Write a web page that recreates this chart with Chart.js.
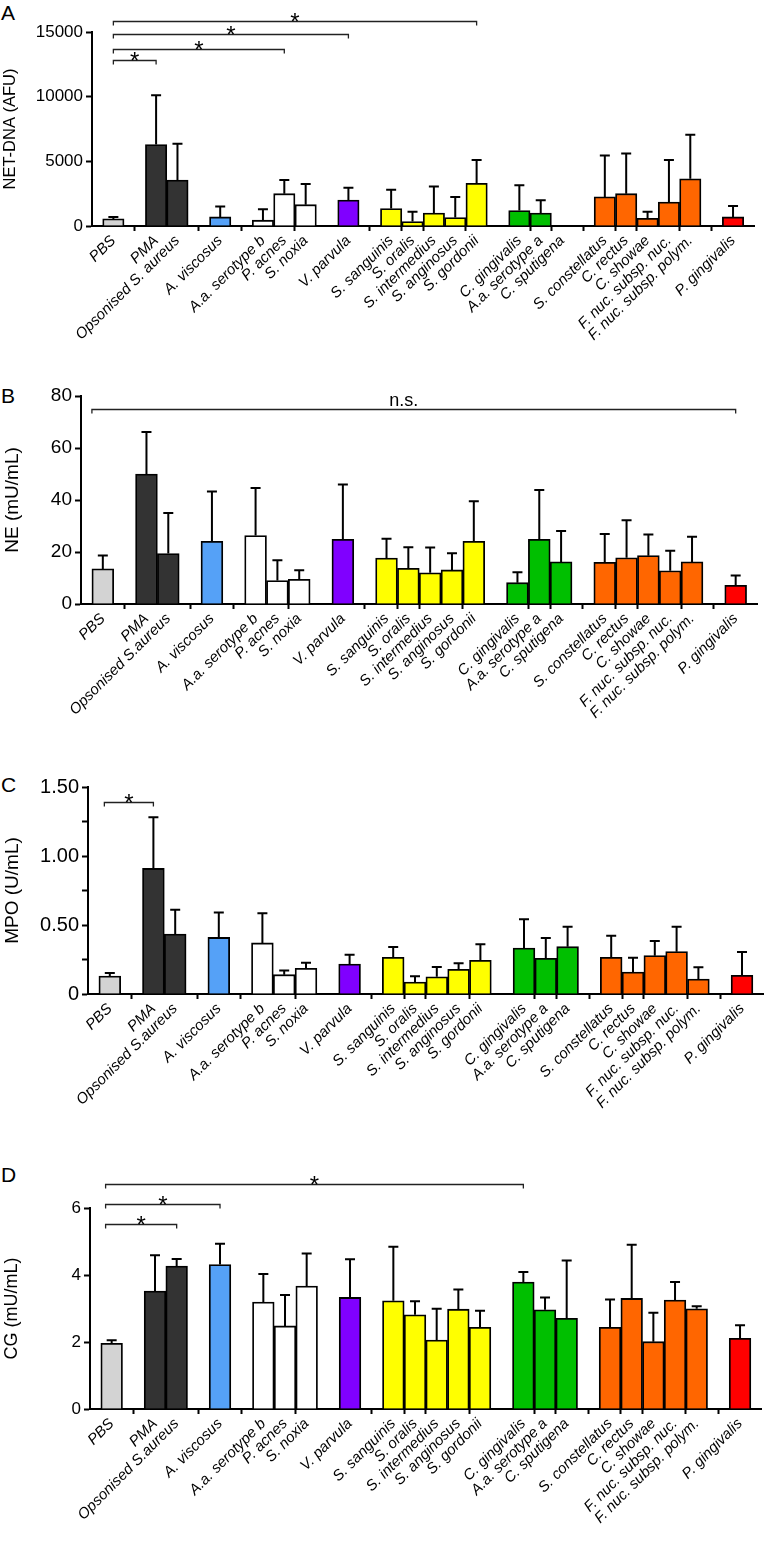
<!DOCTYPE html>
<html>
<head>
<meta charset="utf-8">
<script src="https://cdn.jsdelivr.net/npm/chart.js@4.4.1/dist/chart.umd.min.js"></script>
<style>
  body { margin: 0; background: #fff; width: 766px; height: 1543px; position: relative; overflow: hidden;
         font-family: "Liberation Sans", Arial, sans-serif; }
  canvas { position: absolute; left: 0; }
  .letter { position: absolute; left: 1px; font-size: 21px; line-height: 1; color: #000; }
</style>
</head>
<body>
<div class="letter" style="top:2px">A</div>
<div class="letter" style="top:385px">B</div>
<div class="letter" style="top:774px">C</div>
<div class="letter" style="top:1164px">D</div>
<canvas id="chartA" width="766" height="375" style="top:0px"></canvas>
<canvas id="chartB" width="766" height="385" style="top:375px"></canvas>
<canvas id="chartC" width="766" height="380" style="top:760px"></canvas>
<canvas id="chartD" width="766" height="403" style="top:1140px"></canvas>
<script>
// bacteria / stimuli, in plotting order
const categories = ['PBS', 'PMA', 'Opsonised S. aureus', 'A. viscosus',
  'A.a. serotype b', 'P. acnes', 'S. noxia', 'V. parvula',
  'S. sanguinis', 'S. oralis', 'S. intermedius', 'S. anginosus', 'S. gordonii',
  'C. gingivalis', 'A.a. serotype a', 'C. sputigena',
  'S. constellatus', 'C. rectus', 'C. showae', 'F. nuc. subsp. nuc.', 'F. nuc. subsp. polym.',
  'P. gingivalis'];
const groupSizes = [1, 2, 1, 3, 1, 5, 3, 5, 1];
const groupColors = ['#d3d3d3', '#333333', '#55a1f7', '#ffffff', '#8000ff', '#ffff00', '#00bf00', '#ff6600', '#ff0000'];

// A: NET-DNA (AFU), mean and SD
const netMean = [550, 6300, 3550, 700, 450, 2500, 1650, 2000, 1350, 350, 1000, 650, 3300, 1200, 1000, null, 2250, 2500, 600, 1850, 3650, 700];
const netSD = [150, 3800, 2800, 800, 850, 1050, 1600, 950, 1450, 750, 2050, 1600, 1800, 1950, 1000, null, 3200, 3100, 500, 3250, 3400, 850];
// B: NE (mU/mL)
const neMean = [13.5, 50, 19.4, 24.1, 26.3, 9, 9.5, 24.9, 17.7, 13.7, 12, 13.1, 24.1, 8.2, 24.9, 16.2, 16, 17.8, 18.6, 12.8, 16.2, 7.2];
const neSD = [5.2, 16.2, 15.6, 19.2, 18.3, 7.8, 3.5, 21.1, 7.4, 8.1, 9.7, 6.4, 15.4, 4, 18.9, 11.9, 10.9, 14.4, 8.1, 7.7, 9.7, 3.8];
// C: MPO (U/mL)
const mpoMean = [0.13, 0.91, 0.435, 0.41, 0.37, 0.14, 0.186, 0.217, 0.266, 0.087, 0.125, 0.179, 0.244, 0.333, 0.259, 0.343, 0.266, 0.159, 0.278, 0.307, 0.109, 0.135];
const mpoSD = [0.022, 0.37, 0.175, 0.18, 0.215, 0.03, 0.041, 0.068, 0.074, 0.041, 0.071, 0.043, 0.116, 0.208, 0.147, 0.145, 0.156, 0.104, 0.106, 0.181, 0.084, 0.169];
// D: CG (mU/mL)
const cgMean = [1.96, 3.52, 4.27, 4.31, 3.19, 2.48, 3.67, 3.33, 3.23, 2.81, 2.06, 2.98, 2.44, 3.79, 2.96, 2.71, 2.44, 3.30, 2.01, 3.25, 2.99, 2.11];
const cgSD = [0.09, 1.07, 0.21, 0.62, 0.84, 0.92, 0.97, 1.14, 1.61, 0.41, 0.93, 0.59, 0.49, 0.30, 0.37, 1.72, 0.83, 1.60, 0.86, 0.54, 0.08, 0.39];

// significance brackets: [from, to, height in data units, mark]
const netBrackets = [['PBS', 'PMA', 12800, '*'], ['PBS', 'P. acnes', 13700, '*'],
  ['PBS', 'V. parvula', 14860, '*'], ['PBS', 'S. gordonii', 15870, '*']];
const neBrackets = [['PBS', 'P. gingivalis', 75, 'n.s.']];
const mpoBrackets = [['PBS', 'PMA', 1.39, '*']];
const cgBrackets = [['PBS', 'Opsonised S. aureus', 5.51, '*'], ['PBS', 'A. viscosus', 6.12, '*'],
  ['PBS', 'C. gingivalis', 6.72, '*']];

const FONT = "'Liberation Sans', Arial, sans-serif";
Chart.defaults.font.family = FONT;
Chart.defaults.color = '#000';

// spread values over slots: blank slot at both ends and between groups
function toSlots(values) {
  const out = [null];
  let k = 0;
  groupSizes.forEach(n => {
    for (let j = 0; j < n; j++) out.push(values[k++]);
    out.push(null);
  });
  return out;
}
const slotColors = toSlots(groupSizes.flatMap((n, g) => Array(n).fill(groupColors[g])));
const slotIndex = name => toSlots(categories).indexOf(name);

const overlay = {
  id: 'overlay',
  afterDatasetsDraw(chart, args, opts) {
    const { ctx } = chart;
    const x = chart.scales.x, y = chart.scales.y;
    const data = chart.data.datasets[0].data;
    ctx.save();
    ctx.strokeStyle = '#000';
    ctx.lineWidth = 2;
    data.forEach((v, i) => {
      const sd = opts.sd[i];
      if (v == null || sd == null) return;
      const px = x.getPixelForValue(i);
      const y0 = y.getPixelForValue(v), y1 = y.getPixelForValue(v + sd);
      ctx.beginPath();
      ctx.moveTo(px, y0); ctx.lineTo(px, y1);
      ctx.moveTo(px - 5, y1); ctx.lineTo(px + 5, y1);
      ctx.stroke();
    });
    ctx.strokeStyle = '#222';
    ctx.lineWidth = 1.3;
    ctx.fillStyle = '#000';
    ctx.textAlign = 'center';
    opts.brackets.forEach(([from, to, h, mark]) => {
      const xa = x.getPixelForValue(slotIndex(from) + opts.inset);
      const xb = x.getPixelForValue(slotIndex(to));
      const py = Math.round(y.getPixelForValue(h)) + 0.5;
      ctx.beginPath();
      ctx.moveTo(xa, py + 4); ctx.lineTo(xa, py); ctx.lineTo(xb, py); ctx.lineTo(xb, py + 4);
      ctx.stroke();
      if (mark === '*') {
        ctx.font = '24px ' + FONT;
        ctx.fillText(mark, (xa + xb) / 2, py + 8);
      } else {
        ctx.font = '18px ' + FONT;
        ctx.fillText(mark, (xa + xb) / 2 - 10, py - 4);
      }
    });
    ctx.restore();
  }
};

function makePanel(id, p) {
  const labels = toSlots(p.labels);
  new Chart(document.getElementById(id), {
    type: 'bar',
    data: {
      labels: labels,
      datasets: [{
        data: toSlots(p.mean),
        backgroundColor: slotColors,
        borderColor: '#000',
        borderWidth: 1.8,
        barPercentage: 1,
        categoryPercentage: 1
      }]
    },
    options: {
      responsive: false,
      animation: false,
      devicePixelRatio: 1,
      layout: { padding: { top: p.top, right: p.right, left: 0, bottom: 0 } },
      plugins: {
        legend: { display: false },
        tooltip: { enabled: false },
        overlay: { sd: toSlots(p.sd), brackets: p.brackets, inset: p.inset }
      },
      scales: {
        x: {
          type: 'category',
          offset: false,
          z: 1,
          border: { color: '#000', width: 2 },
          grid: {
            drawOnChartArea: false, tickLength: 5, tickWidth: 2,
            tickColor: c => labels[c.index] ? '#000' : 'rgba(0,0,0,0)'
          },
          ticks: {
            autoSkip: false, maxRotation: 45, minRotation: 45, padding: 1,
            color: '#000', font: { size: 15, style: 'italic' }
          },
          afterFit: s => { s.height = p.xHeight; }
        },
        y: {
          min: 0,
          max: p.max,
          z: 1,
          border: { color: '#000', width: 2 },
          grid: { drawOnChartArea: false, tickLength: 6, tickWidth: 2, tickColor: '#000' },
          ticks: { stepSize: p.step, callback: p.fmt, color: '#000', padding: 3, autoSkip: false,
                   font: { size: p.tickSize } },
          title: { display: true, text: p.title, color: '#000', font: { size: p.titleSize },
                   padding: { top: 1, bottom: 0 } },
          afterFit: s => { s.width = p.yWidth; }
        }
      }
    },
    plugins: [overlay]
  });
}

const labelsA = categories;
const labelsBCD = categories.map(c => c === 'Opsonised S. aureus' ? 'Opsonised S.aureus' : c);

makePanel('chartA', {
  labels: labelsA, mean: netMean, sd: netSD, brackets: netBrackets, inset: 0,
  max: 15000, step: 5000, fmt: v => String(v), title: 'NET-DNA (AFU)',
  tickSize: 17, titleSize: 16.5, yWidth: 92, top: 32, right: 11.6, xHeight: 149
});
makePanel('chartB', {
  labels: labelsBCD, mean: neMean, sd: neSD, brackets: neBrackets, inset: -0.5,
  max: 80, step: 20, fmt: v => String(v), title: 'NE (mU/mL)',
  tickSize: 19, titleSize: 19, yWidth: 81, top: 21, right: 8.5, xHeight: 156
});
makePanel('chartC', {
  labels: labelsBCD, mean: mpoMean, sd: mpoSD, brackets: mpoBrackets, inset: -0.25,
  max: 1.5, step: 0.25,
  fmt: v => Math.abs(v * 2 - Math.round(v * 2)) < 1e-6 ? (v === 0 ? '0' : v.toFixed(2)) : '',
  title: 'MPO (U/mL)', tickSize: 20, titleSize: 19, yWidth: 88, top: 27, right: 2.2, xHeight: 146
});
makePanel('chartD', {
  labels: labelsBCD, mean: cgMean, sd: cgSD, brackets: cgBrackets, inset: -0.28,
  max: 6, step: 2, fmt: v => String(v), title: 'CG (mU/mL)',
  tickSize: 17, titleSize: 18, yWidth: 90, top: 68, right: 4.3, xHeight: 134
});
</script>
</body>
</html>
